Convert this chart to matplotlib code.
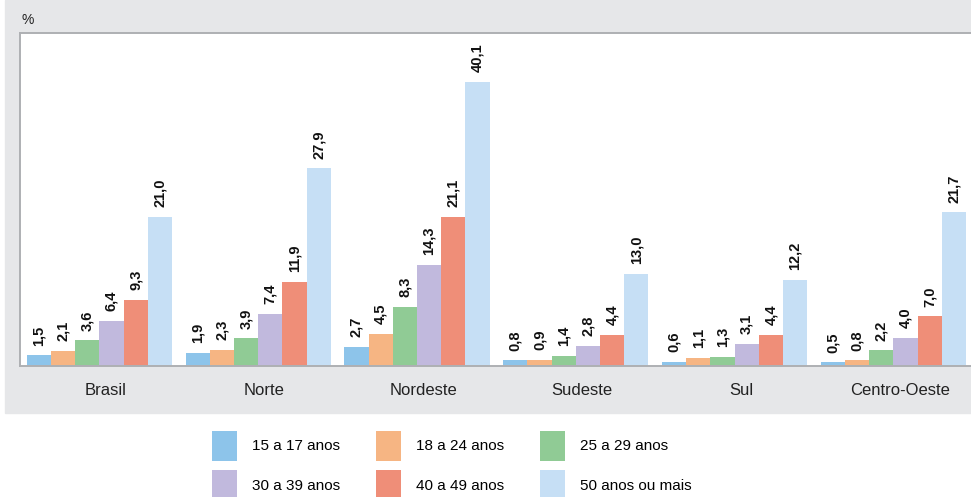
import numpy as np
import matplotlib
matplotlib.use("Agg")
import matplotlib.pyplot as plt
from matplotlib.patches import Rectangle, Patch

plt.rcParams['font.family'] = ['Liberation Sans', 'DejaVu Sans']

# Dados
regioes = ['Brasil', 'Norte', 'Nordeste', 'Sudeste', 'Sul', 'Centro-Oeste']
faixas = ['15 a 17 anos', '18 a 24 anos', '25 a 29 anos',
          '30 a 39 anos', '40 a 49 anos', '50 anos ou mais']
v_15_17 = [1.5, 1.9, 2.7, 0.8, 0.6, 0.5]
v_18_24 = [2.1, 2.3, 4.5, 0.9, 1.1, 0.8]
v_25_29 = [3.6, 3.9, 8.3, 1.4, 1.3, 2.2]
v_30_39 = [6.4, 7.4, 14.3, 2.8, 3.1, 4.0]
v_40_49 = [9.3, 11.9, 21.1, 4.4, 4.4, 7.0]
v_50_mais = [21.0, 27.9, 40.1, 13.0, 12.2, 21.7]
series = [v_15_17, v_18_24, v_25_29, v_30_39, v_40_49, v_50_mais]
cores = ['#8dc4ea', '#f6b583', '#90cb95', '#c1b9dd', '#ef8e78', '#c6dff5']

W, H = 971, 497
fig = plt.figure(figsize=(W / 100, H / 100), dpi=100)

# fundo cinza do painel
fig.patches.append(Rectangle((5 / W, 1 - 413 / H), 1, 413 / H,
                             transform=fig.transFigure, color='#e6e7e9', zorder=-10))

ax = fig.add_axes([20 / W, 1 - 366 / H, 1 - 20 / W, (366 - 33) / H])
ax.set_zorder(1)
ax.set_facecolor('white')

x = np.arange(len(regioes))
w = 0.1524
for j, (vals, cor) in enumerate(zip(series, cores)):
    pos = x + (j - 2.5) * w
    bars = ax.bar(pos, vals, width=w, color=cor, edgecolor='none', zorder=2)
    for b, v in zip(bars, vals):
        ax.annotate(f'{v:.1f}'.replace('.', ','),
                    (b.get_x() + b.get_width() / 2, b.get_height()),
                    xytext=(0, 7), textcoords='offset points',
                    rotation=90, ha='center', va='bottom',
                    fontsize=10.5, fontweight='bold', color='#111111')

ax.set_xlim(-0.5, 5.489)
ax.set_ylim(0, 47)
ax.set_yticks([])
ax.set_xticks(x + 0.04)
ax.set_xticklabels(regioes, fontsize=12, color='#222222')
ax.tick_params(axis='x', length=0, pad=12)

for s in ['top', 'left', 'bottom']:
    ax.spines[s].set_color('#aeb0b3')
    ax.spines[s].set_linewidth(1.4)
ax.spines['right'].set_visible(False)

fig.text(22 / W, 1 - 20 / H, '%', fontsize=10, va='center', ha='left', color='#222222')

# legenda (ordem em linhas, matplotlib preenche por colunas)
handles = [Patch(facecolor=c, edgecolor='none') for c in cores]
ordem = [0, 3, 1, 4, 2, 5]
fig.legend([handles[i] for i in ordem], [faixas[i] for i in ordem],
           ncol=3, frameon=False, loc='upper left',
           bbox_to_anchor=(212 / W, 1 - 431 / H),
           fontsize=11, handlelength=1.65, handleheight=2.6,
           handletextpad=1.0, columnspacing=2.3, labelspacing=0.65,
           borderpad=0, borderaxespad=0)

fig.savefig('out.png', dpi=100)
